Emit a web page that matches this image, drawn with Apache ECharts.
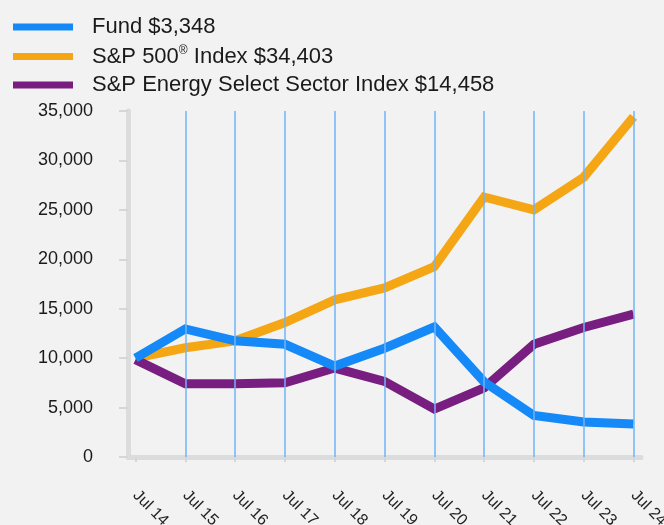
<!DOCTYPE html>
<html>
<head>
<meta charset="utf-8">
<style>
  html, body { margin: 0; padding: 0; background: #f2f2f2; }
  #chart { width: 664px; height: 525px; }
</style>
<script src="https://cdn.jsdelivr.net/npm/echarts@6/dist/echarts.min.js"></script>
</head>
<body>
<div id="chart"></div>
<script>
var cats = ['Jul 14', 'Jul 15', 'Jul 16', 'Jul 17', 'Jul 18', 'Jul 19', 'Jul 20', 'Jul 21', 'Jul 22', 'Jul 23', 'Jul 24'];
var fund = [10000, 12950, 11750, 11400, 9200, 11000, 13150, 7600, 4200, 3550, 3348];
var sp500 = [10000, 11050, 11750, 13600, 15900, 17100, 19250, 26300, 25000, 28300, 34403];
var energy = [9850, 7400, 7400, 7500, 9000, 7650, 4850, 7000, 11400, 13100, 14458];
var yTicks = [0, 5000, 10000, 15000, 20000, 25000, 30000, 35000];
var names = ['Fund $3,348', 'S&P 500® Index $34,403', 'S&P Energy Select Sector Index $14,458'];

function pairs(arr) {
  return arr.map(function (v, i) { return [i, v]; });
}
var idx = cats.map(function (c, i) { return i; });
// vertical grid lines at every category except the first
var gridLines = idx.slice(1).map(function (i) { return { xAxis: i }; });

var font = 'Liberation Sans, Arial, sans-serif';

var option = {
  backgroundColor: '#f2f2f2',
  animation: false,
  textStyle: { fontFamily: font },
  legend: {
    data: names,
    orient: 'vertical',
    left: 13,
    top: 16,
    padding: 0,
    itemWidth: 60,
    itemHeight: 7,
    itemGap: 6.5,
    icon: 'rect',
    formatter: function (n) {
      if (n.indexOf('®') > -1) {
        var p = n.split('®');
        return '{a|' + p[0] + '}{s|®}{a|' + p[1] + '}';
      }
      return '{a|' + n + '}';
    },
    textStyle: {
      color: '#1a1a1a',
      fontSize: 22,
      padding: [0, 0, 0, 14],
      rich: {
        a: { fontSize: 22, color: '#1a1a1a', fontFamily: font, lineHeight: 24 },
        s: { fontSize: 12, color: '#1a1a1a', fontFamily: font, verticalAlign: 'top', lineHeight: 24, padding: [0, 0, 8, 0] }
      }
    }
  },
  grid: { left: 128, right: 23, top: 111, bottom: 68, outerBoundsMode: 'none', containLabel: false },
  xAxis: {
    type: 'value',
    min: -0.15,
    max: 10.15,
    axisLine: { show: true, lineStyle: { color: '#dcdcdc', width: 5 } },
    axisTick: { show: true, customValues: idx, length: 5, lineStyle: { color: '#d6d6d6', width: 2 } },
    splitLine: { show: false },
    axisLabel: {
      customValues: idx,
      rotate: -45,
      margin: 36,
      fontSize: 16,
      color: '#222',
      formatter: function (v) { return cats[Math.round(v)]; }
    }
  },
  yAxis: {
    type: 'value',
    min: yTicks[0],
    max: yTicks[yTicks.length - 1],
    interval: 5000,
    axisLine: { show: true, onZero: false, lineStyle: { color: '#dcdcdc', width: 5 } },
    axisTick: { show: true, length: 9, lineStyle: { color: '#d6d6d6', width: 2 } },
    splitLine: { show: false },
    axisLabel: {
      margin: 35,
      fontSize: 18,
      color: '#1a1a1a',
      formatter: function (v) { return v.toLocaleString('en-US'); }
    }
  },
  series: [
    {
      name: 'grid',
      type: 'line',
      data: [],
      silent: true,
      z: 1,
      markLine: {
        silent: true,
        symbol: 'none',
        label: { show: false },
        lineStyle: { color: '#70b4f7', width: 1.5, type: 'solid' },
        data: gridLines
      }
    },
    {
      name: names[1],
      type: 'line',
      data: pairs(sp500),
      color: '#f4a614',
      showSymbol: false,
      z: 2,
      lineStyle: { width: 9, join: 'miter', cap: 'butt' }
    },
    {
      name: names[2],
      type: 'line',
      data: pairs(energy),
      color: '#781e80',
      showSymbol: false,
      z: 3,
      lineStyle: { width: 9, join: 'miter', cap: 'butt' }
    },
    {
      name: names[0],
      type: 'line',
      data: pairs(fund),
      color: '#1589f7',
      showSymbol: false,
      z: 4,
      lineStyle: { width: 9, join: 'miter', cap: 'butt' }
    }
  ]
};

var myChart = echarts.init(document.getElementById('chart'));
myChart.setOption(option);
</script>
</body>
</html>
